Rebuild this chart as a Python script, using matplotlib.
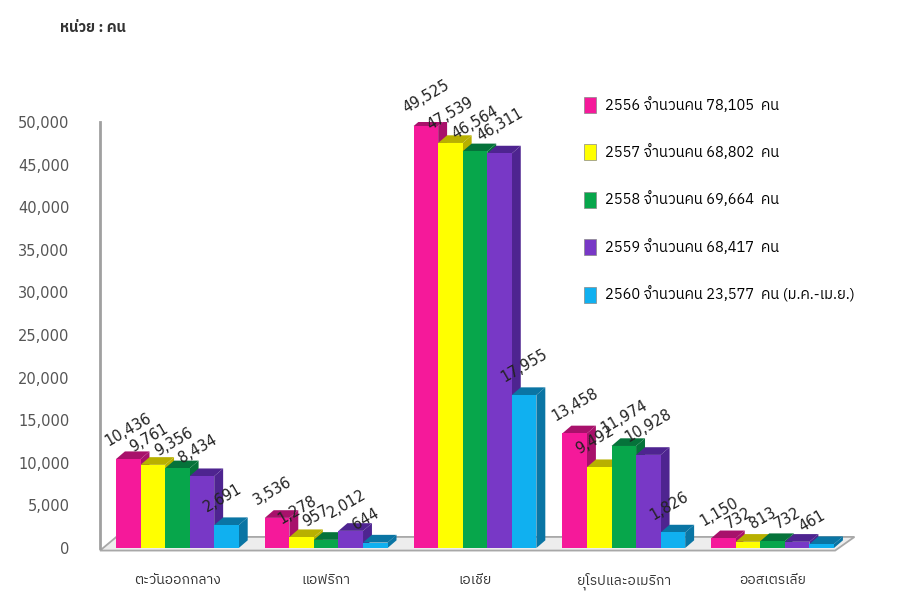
import matplotlib
matplotlib.use("Agg")
import matplotlib.pyplot as plt
from matplotlib.patches import Polygon, Patch
from matplotlib.ticker import FuncFormatter
from matplotlib import font_manager

# pick a family that carries Thai glyphs, fall back to DejaVu
names = sorted({f.name for f in font_manager.fontManager.ttflist})
thai_fonts = [n for n in names if "Thai" in n]
plt.rcParams["font.family"] = thai_fonts[:1] + ["DejaVu Sans"]

regions = ["ตะวันออกกลาง", "แอฟริกา", "เอเชีย", "ยุโรปและอเมริกา", "ออสเตรเลีย"]
years = ["2556", "2557", "2558", "2559", "2560"]
totals = ["78,105", "68,802", "69,664", "68,417", "23,577"]
notes = ["", "", "", "", " (ม.ค.-เม.ย.)"]
values = {
    "2556": [10436, 3536, 49525, 13458, 1150],
    "2557": [9761, 1278, 47539, 9492, 732],
    "2558": [9356, 957, 46564, 11974, 813],
    "2559": [8434, 2012, 46311, 10928, 732],
    "2560": [2691, 644, 17955, 1826, 461],
}
colors = ["#F5199A", "#FFFF00", "#07A64B", "#7838C6", "#10B0F0"]
sides = ["#A8116B", "#B8B000", "#05733A", "#4E2490", "#0A75A4"]

fig = plt.figure(figsize=(9.24, 5.97), dpi=100)
ax = fig.add_axes([100 / 924, 49 / 597, 750 / 924, 426 / 597])
ax.set_xlim(-0.52, 4.52)
ax.set_ylim(0, 50000)

w = 0.165
dx, dy = 0.06, 900

# floor plate under the bars
fl = Polygon([(-0.52, -300), (4.42, -300), (4.55, 1300), (-0.41, 1300)],
             closed=True, facecolor="#EDEDED", edgecolor="#A8A8A8", lw=1.3,
             zorder=1, clip_on=False)
ax.add_patch(fl)

z = 2
for i in range(len(regions)):
    for j, yr in enumerate(years):
        h = values[yr][i]
        x0 = i + (j - 2) * w - w / 2
        x1 = x0 + w
        ax.add_patch(Polygon([(x1, 0), (x1 + dx, dy), (x1 + dx, h + dy), (x1, h)],
                             closed=True, facecolor=sides[j], edgecolor="none", zorder=z))
        ax.add_patch(Polygon([(x0, h), (x0 + dx, h + dy), (x1 + dx, h + dy), (x1, h)],
                             closed=True, facecolor=sides[j], edgecolor="none", zorder=z))
        ax.bar(x0, h, width=w, align="edge", color=colors[j], zorder=z + 0.5)
        ax.text(x0 - 0.04, h + dy + 250, f"{h:,}", rotation=30,
                rotation_mode="anchor", ha="left", va="bottom", fontsize=10.5,
                color="#222222", family="DejaVu Sans", zorder=50, clip_on=False)
        z += 1

ax.set_xticks(range(len(regions)))
ax.set_xticklabels(regions, fontsize=10, color="#333333")
ax.set_yticks(range(0, 50001, 5000))
ax.yaxis.set_major_formatter(FuncFormatter(lambda v, p: f"{int(v):,}"))
ax.tick_params(axis="y", length=0, pad=22, labelsize=10.5, labelcolor="#555555",
               labelfontfamily="DejaVu Sans")
ax.tick_params(axis="x", length=0, pad=18)
for s in ["top", "right", "bottom"]:
    ax.spines[s].set_visible(False)
ax.spines["left"].set_color("#A0A0A0")
ax.spines["left"].set_linewidth(2)

handles = [Patch(facecolor=c, edgecolor="#888888", lw=0.5) for c in colors]
labels = [f"{y} จำนวนคน {t}  คน{n}" for y, t, n in zip(years, totals, notes)]
ax.legend(handles, labels, loc="upper left", bbox_to_anchor=(0.628, 1.09),
          frameon=False, fontsize=10.5, handlelength=0.8, handleheight=1.3,
          labelspacing=2.15, handletextpad=0.6)

fig.text(60 / 924, 1 - 28 / 597, "หน่วย : คน", fontsize=10.5, fontweight="bold",
         color="#333333", va="center")

fig.savefig("out.png", dpi=100)
